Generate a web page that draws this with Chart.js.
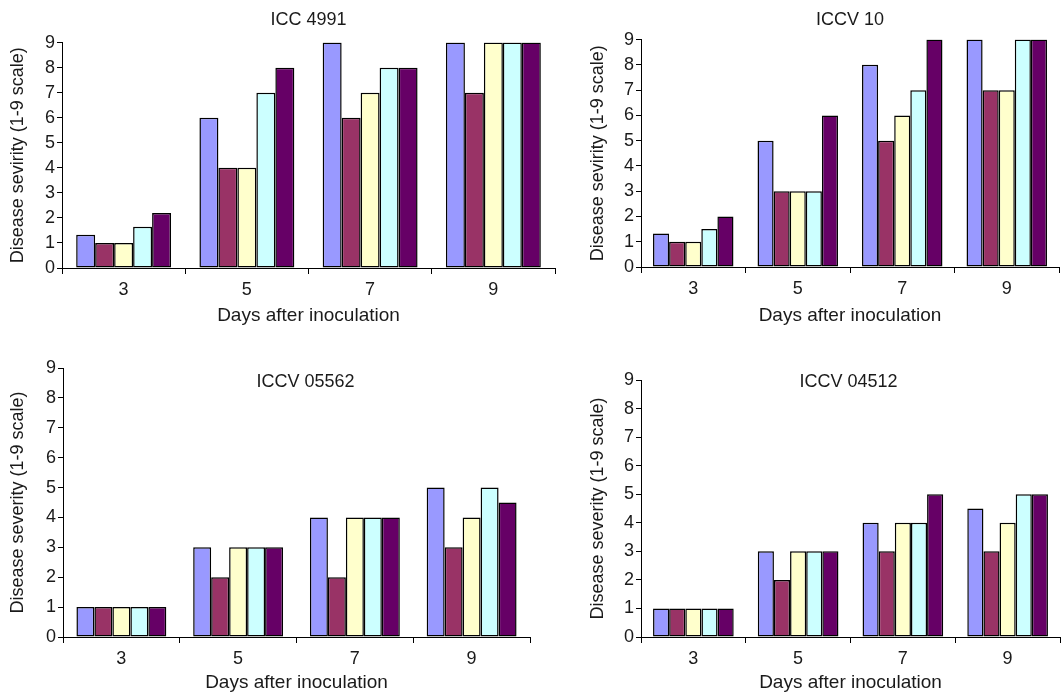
<!DOCTYPE html>
<html>
<head>
<meta charset="utf-8">
<script src="https://cdn.jsdelivr.net/npm/chart.js@4"></script>
<style>
  html,body{margin:0;padding:0;background:#fff;}
  #wrap{position:relative;width:1061px;height:695px;overflow:hidden;}
  #wrap canvas{position:absolute;}
</style>
</head>
<body>
<div id="wrap">
  <canvas id="c1" width="570" height="330" style="left:0;top:0"></canvas>
  <canvas id="c2" width="491" height="330" style="left:570px;top:0"></canvas>
  <canvas id="c3" width="570" height="350" style="left:0;top:345px"></canvas>
  <canvas id="c4" width="491" height="350" style="left:570px;top:345px"></canvas>
</div>
<script>
// Data
const days = ['3', '5', '7', '9'];
const seriesColors = ['#9999FF', '#993366', '#FFFFCC', '#CCFFFF', '#660066'];
const yMax = 9;

// one row per bar series, one value per day
const icc4991 = [
  [1.33, 6, 9, 9],
  [1, 4, 6, 7],
  [1, 4, 7, 9],
  [1.65, 7, 8, 9],
  [2.2, 8, 8, 9]
];
const iccv10 = [
  [1.33, 5, 8, 9],
  [1, 3, 5, 7],
  [1, 3, 6, 7],
  [1.5, 3, 7, 9],
  [2, 6, 9, 9]
];
const iccv05562 = [
  [1, 3, 4, 5],
  [1, 2, 2, 3],
  [1, 3, 4, 4],
  [1, 3, 4, 5],
  [1, 3, 4, 4.5]
];
const iccv04512 = [
  [1, 3, 4, 4.5],
  [1, 2, 3, 3],
  [1, 3, 4, 4],
  [1, 3, 4, 5],
  [1, 3, 5, 5]
];

const FONT = '"Liberation Sans", Arial, Helvetica, sans-serif';
const INK = '#1a1a1a';

// title drawn inside the plot (bottom row)
const innerTitle = {
  id: 'innerTitle',
  afterDraw(chart, args, opts){
    if(!opts || !opts.text) return;
    const {ctx, chartArea:a} = chart;
    ctx.save();
    ctx.font = '18px ' + FONT;
    ctx.fillStyle = INK;
    ctx.textAlign = 'center';
    ctx.textBaseline = 'middle';
    ctx.fillText(opts.text, (a.left + a.right)/2 + (opts.dx||0), a.top + (opts.dy||0));
    ctx.restore();
  }
};

function makeChart(id, rows, p){
  const datasets = rows.map((vals, i)=>({
    data: vals,
    backgroundColor: seriesColors[i],
    borderColor: '#000',
    borderWidth: 1.5,
    borderSkipped: false,
    categoryPercentage: 0.77,
    barPercentage: 1
  }));
  return new Chart(document.getElementById(id), {
    type: 'bar',
    data: { labels: days, datasets },
    plugins: [innerTitle],
    options: {
      responsive: false,
      animation: false,
      events: [],
      layout: { padding: p.pad },
      plugins: {
        legend: { display: false },
        tooltip: { enabled: false },
        title: p.title ? {
          display: true, text: p.title, color: INK, fullSize: false,
          font: { family: FONT, size: 18, weight: 'normal' },
          padding: p.titlePad
        } : { display: false },
        innerTitle: p.inner || {}
      },
      scales: {
        x: {
          offset: true,
          grid: { display: true, offset: true, drawOnChartArea: false, drawTicks: true, tickLength: 6, color: '#000' },
          border: { display: true, color: '#000', width: 1 },
          ticks: { color: INK, padding: 5, font: { family: FONT, size: 18 } },
          title: { display: true, text: 'Days after inoculation', color: INK,
                   font: { family: FONT, size: 19 }, padding: { top: 0, bottom: p.xTitlePad } },
          afterFit: s => { s.height = p.xH; }
        },
        y: {
          min: 0, max: yMax,
          grid: { display: true, drawOnChartArea: false, drawTicks: true, tickLength: 5, color: '#000' },
          border: { display: true, color: '#000', width: 1 },
          ticks: { stepSize: 1, color: INK, padding: 2, font: { family: FONT, size: 18 } },
          title: { display: true, text: p.yLabel, color: INK,
                   font: { family: FONT, size: 18 }, padding: { top: p.yTitlePad, bottom: 0 } },
          afterFit: s => { s.width = p.yW; }
        }
      }
    }
  });
}

makeChart('c1', icc4991, {
  title: 'ICC 4991', titlePad: { top: 9, bottom: 12 },
  pad: { left: 0, right: 15, top: 0, bottom: 0 },
  yW: 62, yTitlePad: 7, xH: 62, xTitlePad: 3,
  yLabel: 'Disease sevirity (1-9 scale)'
});
makeChart('c2', iccv10, {
  title: 'ICCV 10', titlePad: { top: 9, bottom: 9 },
  pad: { left: 10, right: 2, top: 0, bottom: 0 },
  yW: 61, yTitlePad: 7, xH: 63, xTitlePad: 3,
  yLabel: 'Disease sevirity (1-9 scale)'
});
makeChart('c3', iccv05562, {
  inner: { text: 'ICCV 05562', dx: 9, dy: 14 },
  pad: { left: 0, right: 40, top: 23, bottom: 0 },
  yW: 63, yTitlePad: 7, xH: 58, xTitlePad: 1,
  yLabel: 'Disease severity (1-9 scale)'
});
makeChart('c4', iccv04512, {
  inner: { text: 'ICCV 04512', dx: -2, dy: 2 },
  pad: { left: 10, right: 1, top: 35, bottom: 0 },
  yW: 61, yTitlePad: 7, xH: 58, xTitlePad: 1,
  yLabel: 'Disease severity (1-9 scale)'
});
</script>
</body>
</html>
